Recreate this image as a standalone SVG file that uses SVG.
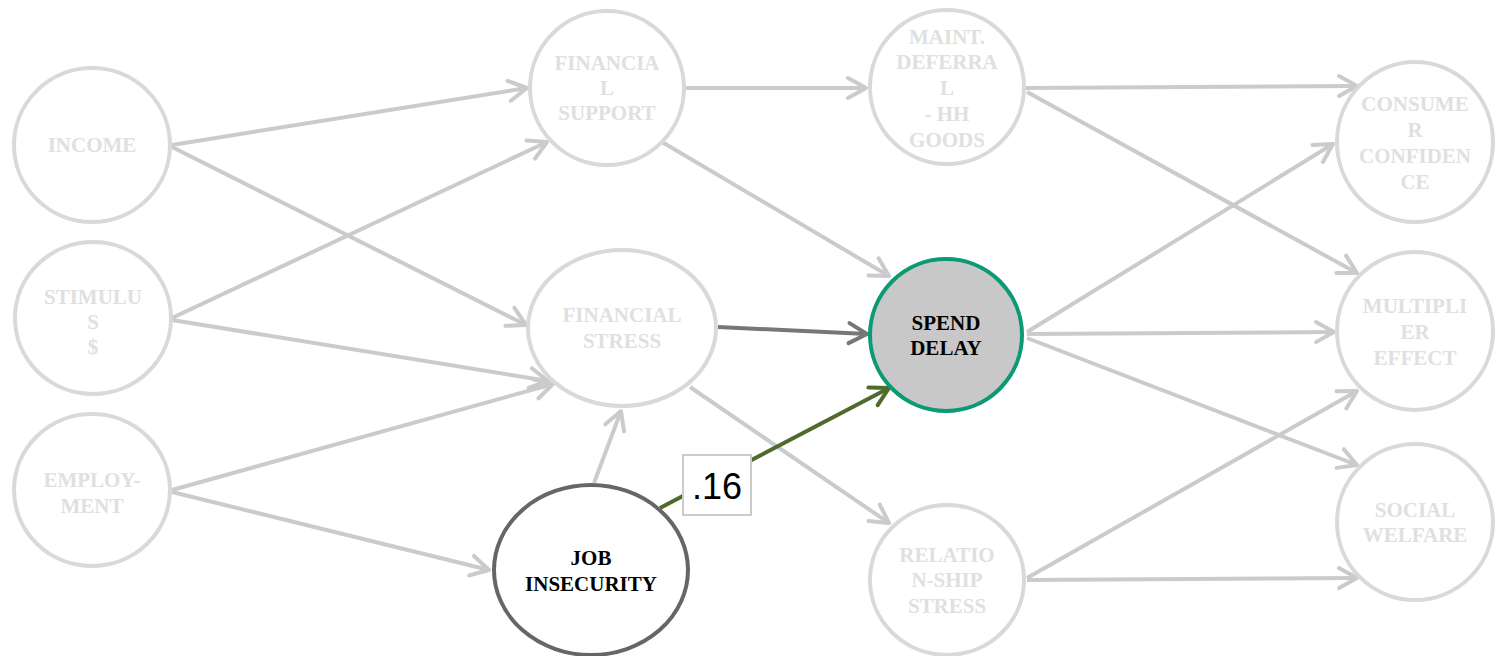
<svg xmlns="http://www.w3.org/2000/svg" width="1496" height="656" viewBox="0 0 1496 656">
<style>
.n{fill:#ffffff;stroke:#d9d9d9;stroke-width:4}
.t{font-family:"Liberation Serif","Times New Roman",serif;font-weight:bold;font-size:21px;fill:#e0e0e0;text-anchor:middle}
.tk{fill:#000000}
.e{fill:none;stroke:#cbcbcb;stroke-width:4;marker-end:url(#ag)}
.ed{stroke:#777777;marker-end:url(#ad)}
.eg{stroke:#4f6a2a;marker-end:url(#ao)}
</style>
<defs>
<marker id="ag" markerUnits="userSpaceOnUse" viewBox="-24 -14 28 28" refX="0" refY="0" markerWidth="28" markerHeight="28" orient="auto"><path d="M-18,-10 L0,0 L-18,10" fill="none" stroke="#cbcbcb" stroke-width="4" stroke-linecap="round" stroke-linejoin="round"/></marker>
<marker id="ad" markerUnits="userSpaceOnUse" viewBox="-24 -14 28 28" refX="0" refY="0" markerWidth="28" markerHeight="28" orient="auto"><path d="M-18,-10 L0,0 L-18,10" fill="none" stroke="#777777" stroke-width="4" stroke-linecap="round" stroke-linejoin="round"/></marker>
<marker id="ao" markerUnits="userSpaceOnUse" viewBox="-24 -14 28 28" refX="0" refY="0" markerWidth="28" markerHeight="28" orient="auto"><path d="M-18,-10 L0,0 L-18,10" fill="none" stroke="#4f6a2a" stroke-width="4" stroke-linecap="round" stroke-linejoin="round"/></marker>
</defs>
<rect width="1496" height="656" fill="#ffffff"/>
<g id="connectors">
<line class="e" x1="172" y1="145" x2="527" y2="88"/>
<line class="e" x1="172" y1="147" x2="526" y2="325"/>
<line class="e" x1="172" y1="318" x2="547" y2="142"/>
<line class="e" x1="172" y1="320" x2="548" y2="381"/>
<line class="e" x1="172" y1="490" x2="553" y2="384"/>
<line class="e" x1="172" y1="492" x2="489" y2="570"/>
<line class="e" x1="594" y1="483" x2="621" y2="411"/>
<line class="e" x1="684" y1="88" x2="866" y2="88"/>
<line class="e" x1="662" y1="142" x2="889" y2="276"/>
<line class="e ed" x1="718" y1="327" x2="867" y2="334"/>
<line class="e" x1="690" y1="387" x2="889" y2="523"/>
<line class="e eg" x1="660" y1="508" x2="889" y2="388"/>
<line class="e" x1="1025" y1="88" x2="1357" y2="86"/>
<line class="e" x1="1027" y1="92" x2="1357" y2="273"/>
<line class="e" x1="1027" y1="332" x2="1333" y2="144"/>
<line class="e" x1="1027" y1="334" x2="1334" y2="332"/>
<line class="e" x1="1027" y1="338" x2="1357" y2="465"/>
<line class="e" x1="1027" y1="578" x2="1357" y2="391"/>
<line class="e" x1="1027" y1="580" x2="1357" y2="578"/>
<rect x="683" y="455" width="68" height="60" fill="#ffffff" stroke="#cccccc" stroke-width="2"/>
<text x="717" y="499" font-family="Liberation Sans, Arial, sans-serif" font-size="36" text-anchor="middle" fill="#000000">.16</text>
</g>
<g id="income"><ellipse class="n" cx="92" cy="145" rx="78" ry="77"/><text class="t" x="92" y="152">INCOME</text></g>
<g id="stimulus"><ellipse class="n" cx="93" cy="318" rx="78" ry="76"/><text class="t" x="93" y="304">STIMULU</text><text class="t" x="93" y="329">S</text><text class="t" x="93" y="354">$</text></g>
<g id="employment"><ellipse class="n" cx="92" cy="490" rx="78" ry="76"/><text class="t" x="92" y="487">EMPLOY-</text><text class="t" x="92" y="513">MENT</text></g>
<g id="financial-support"><ellipse class="n" cx="607" cy="88" rx="77" ry="77"/><text class="t" x="607" y="70">FINANCIA</text><text class="t" x="607" y="95">L</text><text class="t" x="607" y="120">SUPPORT</text></g>
<g id="financial-stress"><ellipse class="n" cx="622" cy="328" rx="94" ry="78"/><text class="t" x="622" y="322">FINANCIAL</text><text class="t" x="622" y="348">STRESS</text></g>
<g id="job-insecurity"><ellipse cx="591" cy="570" rx="97" ry="85" fill="#ffffff" stroke="#666666" stroke-width="4"/><text class="t tk" x="591" y="565">JOB</text><text class="t tk" x="591" y="591">INSECURITY</text></g>
<g id="maint-deferral"><ellipse class="n" cx="947" cy="87" rx="77" ry="77"/><text class="t" x="947" y="44">MAINT.</text><text class="t" x="947" y="69">DEFERRA</text><text class="t" x="947" y="95">L</text><text class="t" x="947" y="121">- HH</text><text class="t" x="947" y="147">GOODS</text></g>
<g id="spend-delay"><ellipse cx="946" cy="335" rx="76" ry="76" fill="#c8c8c8" stroke="#0b9a73" stroke-width="4"/><text class="t tk" x="946" y="330">SPEND</text><text class="t tk" x="946" y="355">DELAY</text></g>
<g id="relationship-stress"><ellipse class="n" cx="947" cy="580" rx="77" ry="75"/><text class="t" x="947" y="562">RELATIO</text><text class="t" x="947" y="587">N-SHIP</text><text class="t" x="947" y="613">STRESS</text></g>
<g id="consumer-confidence"><ellipse class="n" cx="1415" cy="142" rx="78" ry="80"/><text class="t" x="1415" y="111">CONSUME</text><text class="t" x="1415" y="137">R</text><text class="t" x="1415" y="163">CONFIDEN</text><text class="t" x="1415" y="189">CE</text></g>
<g id="multiplier-effect"><ellipse class="n" cx="1415" cy="331" rx="78" ry="79"/><text class="t" x="1415" y="313">MULTIPLI</text><text class="t" x="1415" y="339">ER</text><text class="t" x="1415" y="365">EFFECT</text></g>
<g id="social-welfare"><ellipse class="n" cx="1415" cy="522" rx="78" ry="78"/><text class="t" x="1415" y="517">SOCIAL</text><text class="t" x="1415" y="542">WELFARE</text></g>
</svg>
